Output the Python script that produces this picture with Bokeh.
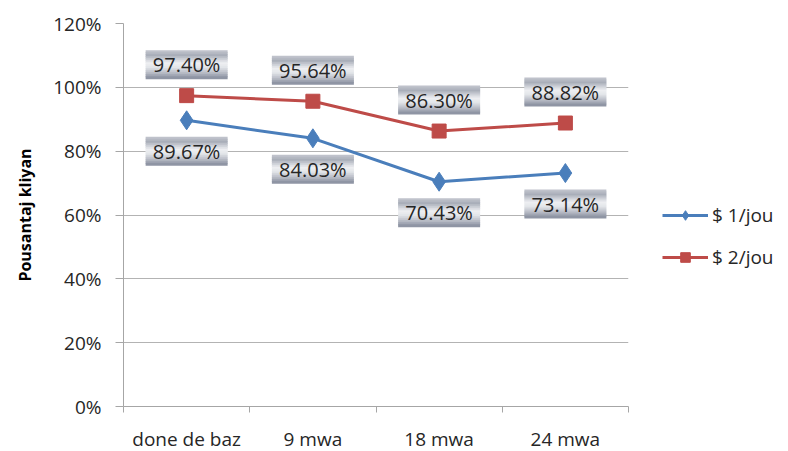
from bokeh.plotting import figure
from bokeh.models import Range1d, FixedTicker, NumeralTickFormatter, Legend, LegendItem
from bokeh.embed import file_html
from bokeh.resources import INLINE
from bokeh.core.properties import value

# ---- data ----
categories = ["done de baz", "9 mwa", "18 mwa", "24 mwa"]
series1_name = "$ 1/jou"
series1 = [0.8967, 0.8403, 0.7043, 0.7314]
series2_name = "$ 2/jou"
series2 = [0.9740, 0.9564, 0.8630, 0.8882]
y_ticks = [0, 0.2, 0.4, 0.6, 0.8, 1.0, 1.2]
y_title = "Pousantaj kliyan"

# ---- style ----
FONT = "Open Sans"
FRAME_W, FRAME_H = 505, 383
Y_MAX = 1.2
BLUE = "#4a7ebb"
RED = "#be4b48"
AXIS_GREY = "#a6a6a6"
TEXT = "#262626"

xs = [i + 0.5 for i in range(len(categories))]

p = figure(frame_width=FRAME_W, frame_height=FRAME_H,
           x_range=Range1d(0, len(categories)), y_range=Range1d(0, Y_MAX),
           output_backend="svg", toolbar_location=None,
           min_border_left=123, min_border_top=23, min_border_bottom=44,
           min_border_right=158)
p.outline_line_color = None
p.background_fill_color = "white"
p.border_fill_color = "white"

# grid
p.xgrid.visible = False
p.ygrid.ticker = FixedTicker(ticks=y_ticks)
p.ygrid.grid_line_color = "#b3b3b3"
p.ygrid.grid_line_width = 1

# x axis: boundary ticks (minor), labels at centers
xa = p.xaxis[0]
xa.ticker = FixedTicker(ticks=xs, minor_ticks=list(range(len(categories) + 1)))
xa.major_label_overrides = {x: c for x, c in zip(xs, categories)}
xa.major_tick_line_color = None
xa.major_tick_out = 0
xa.major_tick_in = 0
xa.minor_tick_out = 6
xa.minor_tick_in = 0
xa.minor_tick_line_color = AXIS_GREY
xa.axis_line_color = AXIS_GREY
xa.major_label_text_font = FONT
xa.major_label_text_font_size = "19px"
xa.major_label_text_color = TEXT
xa.major_label_standoff = 13

# y axis
ya = p.yaxis[0]
ya.ticker = FixedTicker(ticks=y_ticks)
ya.formatter = NumeralTickFormatter(format="0%")
ya.major_tick_out = 8
ya.major_tick_in = 0
ya.major_tick_line_color = AXIS_GREY
ya.minor_tick_line_color = None
ya.axis_line_color = AXIS_GREY
ya.major_label_text_font = FONT
ya.major_label_text_font_size = "19px"
ya.major_label_text_color = TEXT
ya.major_label_standoff = 14
ya.axis_label = y_title
ya.axis_label_text_font = FONT
ya.axis_label_text_font_size = "16px"
ya.axis_label_text_font_style = "bold"
ya.axis_label_text_color = "#000000"
ya.axis_label_standoff = 14

# lines + markers
l1 = p.line(xs, series1, line_color=BLUE, line_width=3)
s1 = p.scatter(xs, series1, marker="diamond", size=19, fill_color=BLUE, line_color=BLUE)
l2 = p.line(xs, series2, line_color=RED, line_width=3)
s2 = p.scatter(xs, series2, marker="square", size=14, fill_color=RED, line_color=RED)

# data-label boxes (vertical metallic gradient approximated with thin strips)
px = Y_MAX / FRAME_H
LABEL_OFF = 31
BOX_W, BOX_H = 82, 28
stops = [(0.0, (0xc4, 0xc7, 0xcf)), (0.18, (0xa9, 0xae, 0xb9)),
         (0.45, (0xee, 0xef, 0xf2)), (0.6, (0xe4, 0xe6, 0xea)),
         (0.8, (0xb9, 0xbd, 0xc7)), (1.0, (0x86, 0x8c, 0x9c))]


def grad(t):
    for (t0, c0), (t1, c1) in zip(stops[:-1], stops[1:]):
        if t0 <= t <= t1:
            f = (t - t0) / (t1 - t0)
            return "#%02x%02x%02x" % tuple(int(round(a + (b - a) * f)) for a, b in zip(c0, c1))
    return "#%02x%02x%02x" % stops[-1][1]


N_STRIPS = 14
strip_h = BOX_H / N_STRIPS

lab_x = xs + xs
lab_v = series2 + series1
lab_dir = [1] * len(series2) + [-1] * len(series1)
centers = [v + d * LABEL_OFF * px for v, d in zip(lab_v, lab_dir)]
for i in range(N_STRIPS):
    off = BOX_H / 2 - (i + 0.5) * strip_h
    p.rect(x=lab_x, y=[c + off * px for c in centers],
           width=BOX_W, height=strip_h + 1,
           width_units="screen", height_units="screen",
           fill_color=grad((i + 0.5) / N_STRIPS), line_color=None)
p.text(x=lab_x, y=centers, text=[f"{v * 100:.2f}%" for v in lab_v],
       text_align="center", text_baseline="middle",
       text_font=value(FONT), text_font_size="20px", text_color=TEXT)

legend = Legend(items=[LegendItem(label=series1_name, renderers=[l1, s1]),
                       LegendItem(label=series2_name, renderers=[l2, s2])],
                location=(34, 136), padding=0, margin=0,
                glyph_width=46, glyph_height=24, spacing=16, label_standoff=4,
                label_text_font=FONT, label_text_font_size="19px",
                label_text_color=TEXT, border_line_color=None,
                background_fill_alpha=0)
p.add_layout(legend, "right")

open("out.html", "w").write(file_html(p, INLINE))
